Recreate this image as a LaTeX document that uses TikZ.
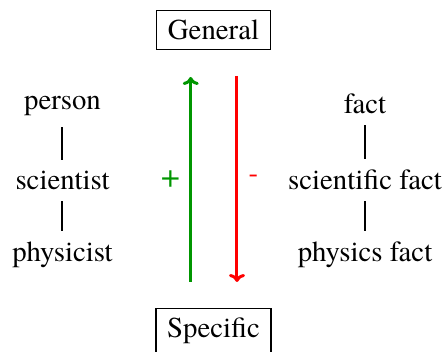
\documentclass[tikz,border=0pt]{standalone}
\usepackage{fontspec}
\setmainfont{texgyretermes}[Extension=.otf,UprightFont=*-regular]
\usetikzlibrary{arrows.meta}
\definecolor{pgreen}{RGB}{0,150,0}
\begin{document}
\begin{tikzpicture}[x=0.5pt,y=-0.5pt,
  every node/.style={font=\fontsize{14.4}{17}\selectfont},
  boxnode/.style={draw,line width=0.6pt,inner xsep=5.6pt,inner ysep=4.7pt},
  word/.style={anchor=base},
  bar/.style={line width=1pt,shorten <=2pt,shorten >=2pt},
  updown/.style={line width=1.5pt,-{To[length=4pt,width=8pt]}}]
\useasboundingbox (0,0) rectangle (446,352);
\node[boxnode] (gen) at (213.5,30) {General};
\node[boxnode,anchor=north] (spec) at (213.5,308) {Specific};
\node[word] (person) at (62.5,110) {person};
\node[word] (scientist) at (62.5,190) {scientist};
\node[word] (physicist) at (62.5,262) {physicist};
\node[word] (fact) at (365,114) {fact};
\node[word] (scifact) at (365,190) {scientific fact};
\node[word] (physfact) at (365,262) {physics fact};
\draw[bar] (person) -- (scientist);
\draw[bar] (scientist) -- (physicist);
\draw[bar] (fact) -- (scifact);
\draw[bar] (scifact) -- (physfact);
\coordinate (g1) at (190.7,282);
\coordinate (g2) at (190.7,77);
\coordinate (r1) at (237,76);
\coordinate (r2) at (237,282);
\draw[updown,pgreen] (g1) -- (g2);
\draw[updown,red] (r1) -- (r2);
\node[word,text=pgreen,font=\fontsize{17}{20}\selectfont] (plus) at (170.5,187.5) {+};
\node[word,text=red] (minus) at (253.5,183) {-};
\end{tikzpicture}
\end{document}
